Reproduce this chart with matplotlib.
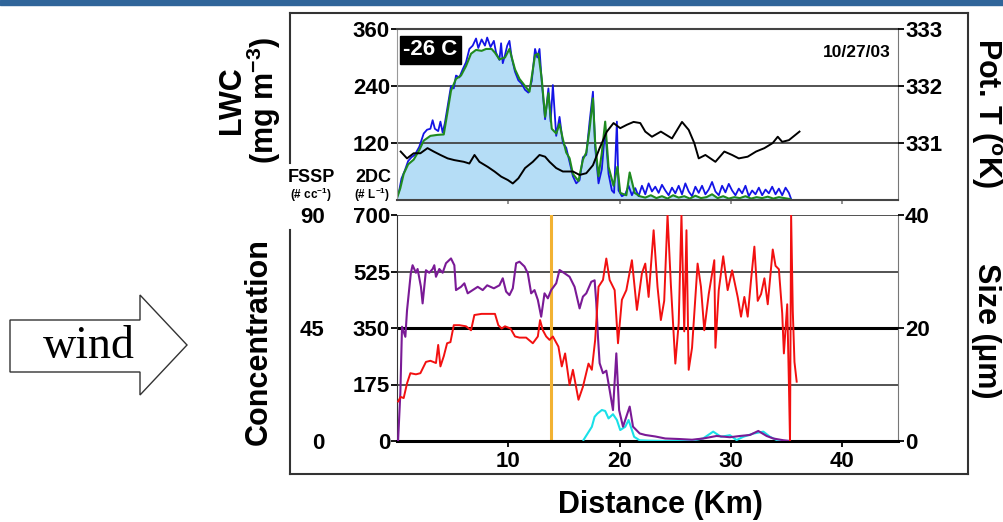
import matplotlib
matplotlib.use('Agg')
import matplotlib.pyplot as plt
from matplotlib.patches import Polygon
from matplotlib.lines import Line2D

# LWC (mg m-3), two probes
blue_km = [0.0, 0.2, 0.4, 0.7, 1.0, 1.3, 1.6, 2.0, 2.4, 2.7, 3.0, 3.2, 3.4, 3.7, 3.9, 4.1, 4.3, 4.5, 4.85, 5.1,
           5.3, 5.6, 5.9, 6.2, 6.5, 6.8, 7.1, 7.3, 7.6, 7.9, 8.1, 8.4, 8.7, 8.9, 9.2, 9.35, 9.5, 9.7, 9.9, 10.1,
           10.3, 10.6, 10.9, 11.2, 11.5, 11.8, 12.1, 12.4, 12.6, 12.8, 13.0, 13.3, 13.6, 13.8, 14.0, 14.3, 14.6,
           14.9, 15.2, 15.5, 15.8, 16.1, 16.4, 16.7, 17.0, 17.3, 17.6, 17.8, 18.1, 18.4, 18.7, 19.0, 19.3, 19.5,
           19.75, 19.9, 20.2, 20.5, 20.8, 21.1, 21.4, 21.7, 22.0, 22.3, 22.6, 22.9, 23.2, 23.5, 23.8, 24.1, 24.4,
           24.7, 25.0, 25.3, 25.6, 25.9, 26.2, 26.5, 26.8, 27.1, 27.4, 27.7, 28.0, 28.3, 28.6, 28.9, 29.2, 29.5,
           29.8, 30.1, 30.4, 30.7, 31.0, 31.3, 31.6, 31.9, 32.2, 32.5, 32.8, 33.1, 33.4, 33.7, 34.0, 34.3, 34.6,
           34.9, 35.2, 35.4]
blue_lwc = [6, 20, 45, 62, 82, 90, 95, 112, 140, 148, 150, 168, 150, 145, 165, 142, 162, 190, 240, 235,
            262, 258, 275, 290, 318, 325, 340, 320, 338, 325, 342, 322, 335, 310, 295, 330, 288, 305, 325, 335,
            300, 270, 252, 245, 232, 226, 250, 318, 300, 318, 250, 170, 235, 165, 242, 135, 175, 120, 110, 80,
            50, 35, 42, 90, 95, 165, 228, 110, 35, 65, 150, 55, 20, 15, 165, 20, 8, 12, 30, 10,
            25, 8, 30, 12, 35, 18, 28, 15, 32, 20, 10, 26, 14, 30, 12, 35, 18, 8, 28, 15,
            30, 12, 22, 38, 18, 10, 30, 16, 34, 20, 10, 24, 14, 30, 8, 20, 12, 26, 10, 22,
            14, 28, 12, 24, 10, 26, 15, 2]

green_km = [0.0, 0.3, 0.6, 1.0, 1.5, 2.0, 2.4, 3.0, 3.6, 4.2, 4.5, 4.85, 5.3, 5.75, 6.2, 6.65, 7.1, 7.6, 8.0,
            8.5, 8.8, 9.2, 9.7, 10.1, 10.6, 11.0, 11.5, 11.9, 12.4, 12.7, 13.0, 13.3, 13.6, 13.9, 14.3, 14.6,
            14.9, 15.2, 15.5, 15.8, 16.3, 16.7, 17.0, 17.3, 17.6, 17.8, 18.1, 18.4, 18.7, 19.0, 19.45, 19.8,
            20.05, 20.6, 20.9, 21.35, 21.8, 22.3, 22.8, 23.3, 23.8, 24.3, 24.8, 25.3, 25.8, 26.3, 26.8, 27.3,
            27.8, 28.3, 28.8, 29.3, 29.8, 30.3, 30.8, 31.3, 31.8, 32.3, 32.8, 33.3, 33.8, 34.3, 34.8, 35.3]
green_lwc = [4, 25, 55, 75, 85, 105, 125, 135, 137, 138, 180, 230, 255, 262, 282, 308, 316, 314, 318,
             318, 310, 296, 300, 318, 275, 255, 240, 228, 305, 308, 255, 175, 225, 150, 140, 160,
             128, 100, 88, 55, 40, 85, 100, 150, 214, 120, 50, 100, 165, 70, 30, 70,
             15, 10, 58, 15, 8, 5, 10, 4, 8, 3, 10, 5, 8, 3, 9, 4,
             6, 12, 4, 8, 3, 6, 4, 8, 3, 6, 4, 7, 3, 6, 4, 2]

# potential temperature (K)
pott_km = [0.33, 0.9, 1.5, 2.1, 2.74, 3.3, 3.9, 4.55, 5.15, 6.0, 6.5, 6.96, 7.4, 8.16, 8.76, 9.36, 9.96, 10.4,
           10.9, 11.5, 12.2, 12.8, 13.3, 13.7, 14.3, 14.9, 15.8, 16.4, 17.0, 17.6, 18.2, 18.85, 19.45, 20.05,
           20.65, 21.25, 21.85, 22.3, 22.9, 23.7, 24.7, 25.6, 26.2, 26.7, 27.1, 27.7, 28.6, 29.4, 30.1, 30.7,
           31.5, 32.25, 33.0, 33.75, 34.2, 34.6, 35.2, 36.15]
pott = [330.85, 330.73, 330.82, 330.82, 330.91, 330.85, 330.79, 330.73, 330.70, 330.67, 330.64, 330.79,
        330.67, 330.58, 330.50, 330.41, 330.35, 330.29, 330.38, 330.56, 330.67, 330.79, 330.76, 330.67,
        330.56, 330.50, 330.50, 330.44, 330.47, 330.61, 330.91, 331.20, 331.35, 331.26, 331.32, 331.37,
        331.35, 331.20, 331.11, 331.20, 331.08, 331.37, 331.23, 331.0, 330.73, 330.79, 330.67, 330.85,
        330.79, 330.73, 330.76, 330.85, 330.91, 331.0, 331.11, 331.02, 331.05, 331.20]

# FSSP concentration (# cc-1)
fssp_km = [0.1, 0.3, 0.45, 0.75, 0.9, 1.24, 1.4, 1.7, 1.85, 2.15, 2.3, 2.6, 2.9, 3.2, 3.35, 3.5, 3.8, 4.1, 4.4,
           4.85, 5.15, 5.3, 5.75, 6.05, 6.35, 6.8, 7.25, 7.7, 8.1, 8.7, 9.2, 9.5, 9.8, 10.1, 10.4, 10.7, 11.0,
           11.45, 11.75, 12.05, 12.35, 12.65, 12.95, 13.25, 13.55, 13.85, 14.3, 14.6, 15.05, 15.5, 15.95, 16.4,
           16.7, 17.0, 17.45, 17.75, 17.9, 18.05, 18.2, 18.5, 18.8, 19.1, 19.4, 19.7, 19.95, 20.3, 20.9, 21.2,
           21.8, 22.3, 23.2, 24.1, 25.3, 26.5, 27.5, 28.7, 29.9, 30.8, 31.7, 32.45, 33.2, 33.8, 34.7, 35.3]
fssp = [0.4, 19, 45.5, 41.5, 52, 66.8, 70, 67, 68.5, 61.4, 54.8, 68, 67, 68.5, 70, 65.4, 68.5, 67, 70.8,
        72.7, 70, 60.1, 61.4, 62.8, 58.8, 60.1, 61.4, 60.1, 62, 60.8, 62, 64.8, 59.5, 58.1, 60.8, 70.8, 71.4,
        69.5, 66.8, 58.8, 60.1, 56.2, 49.5, 58.8, 56.8, 60.1, 62.8, 68.1, 66.8, 65.4, 61.4, 52.8,
        57.5, 58.8, 63.4, 64, 55, 41.5, 31, 27, 28, 20.3, 12.3, 34.9, 12.3, 5.7, 13.7, 5.7,
        3, 2.4, 1.8, 1, 0.8, 0.5, 1, 2, 1.5, 2, 2.4, 4, 2, 1, 0.3, 0]

# 2DC concentration (# L-1)
c2dc_km = [16.75, 17.5, 17.75, 18.0, 18.4, 18.7, 19.0, 19.4, 19.75, 20.05, 20.5, 20.8, 21.3, 21.8, 22.5,
           24.0, 25.5, 26.8, 27.5, 28.4, 29.1, 29.9, 30.5, 31.1, 32.0, 32.9, 33.5, 34.1, 34.7]
c2dc = [3, 44, 75, 85, 96, 93, 70, 83, 65, 34, 44, 65, 13, 2, 1,
        0, 0, 3, 8, 29, 13, 18, 3, 13, 23, 29, 13, 3, 0]

# FSSP mean size (um)
size_km = [0.1, 0.33, 0.6, 0.9, 1.2, 1.7, 2.1, 2.6, 3.0, 3.5, 3.7, 3.9, 4.2, 4.5, 4.8, 5.1, 5.6, 6.2, 6.65,
           6.95, 7.6, 8.2, 8.8, 9.1, 9.4, 9.7, 10.2, 10.6, 11.0, 11.6, 12.2, 12.65, 12.85, 13.1, 13.4, 13.7,
           14.0, 14.5, 14.8, 15.1, 15.5, 15.8, 16.3, 16.7, 17.2, 17.5, 17.8, 18.1, 18.5, 18.8, 19.1, 19.55,
           19.85, 20.2, 20.6, 21.1, 21.55, 22.0, 22.3, 22.6, 23.05, 23.4, 23.7, 24.0, 24.3, 24.6, 25.0, 25.3,
           25.55, 25.8, 26.0, 26.2, 26.5, 27.0, 27.3, 27.6, 28.0, 28.5, 28.6, 28.9, 29.3, 29.7, 30.1, 30.6,
           30.9, 31.2, 31.5, 31.8, 32.1, 32.4, 32.7, 33.0, 33.3, 33.75, 34.0, 34.3, 34.6, 34.75, 35.05, 35.2,
           35.3, 35.4, 35.55, 35.7, 35.9]
size_um = [7.0, 7.8, 7.6, 10.2, 12.0, 11.8, 12.0, 14.0, 14.2, 13.8, 17.0, 13.2, 15.0, 17.3, 17.5, 20.5, 20.5,
           20.3, 19.6, 22.3, 22.5, 22.5, 22.5, 20.5, 19.9, 20.3, 19.9, 18.5, 18.3, 18.3, 17.3, 18.5, 21.4,
           19.6, 18.5, 17.9, 18.5, 16.7, 13.2, 15.5, 9.9, 12.6, 7.3, 9.6, 13.7, 12.6, 17.9, 27.3, 28.5, 32.3,
           28.5, 26.7, 17.3, 25.0, 26.7, 32.0, 23.2, 29.7, 31.4, 25.5, 37.3, 27.3, 21.4, 24.8, 40, 27.6, 13.7,
           20.8, 40, 19.4, 37.3, 12.6, 16.5, 31.4, 27.3, 19.6, 26, 32, 16.5, 26.7, 32.7, 26.7, 30.2, 25.5, 22,
           25.5, 22, 28.5, 34.4, 24.8, 26, 28.8, 24.2, 33.9, 31, 30.4, 22.6, 15.5, 24.2, 10.2, 0, 40, 23, 14,
           10.5]

dist_ticks = [10, 20, 30, 40]
marker_km = 13.8

plt.rcParams['font.family'] = ['Liberation Sans', 'DejaVu Sans']
plt.rcParams['font.weight'] = 'bold'
plt.rcParams['mathtext.fontset'] = 'custom'
plt.rcParams['mathtext.rm'] = 'Liberation Sans:bold'
plt.rcParams['mathtext.bf'] = 'Liberation Sans:bold'
plt.rcParams['mathtext.it'] = 'Liberation Sans:bold'

W, H = 1004, 522
fig = plt.figure(figsize=(W / 100, H / 100), dpi=100)


def fx(px):
    return px / W


def fy(py):
    return 1 - py / H


TICK = 16
LAB = 22


def style(ax):
    ax.tick_params(axis='both', labelsize=TICK, length=4, width=1.3, pad=1, colors='black')
    for lab in ax.get_yticklabels() + ax.get_xticklabels():
        lab.set_fontweight('bold')


# --- top panel: LWC and pot. temperature ---
ax1 = fig.add_axes([fx(397), fy(200), fx(501), 171 / H])
ax1.fill_between(green_km, green_lwc, color='#b5ddf6', lw=0)
ax1.plot(blue_km, blue_lwc, color='#1414e6', lw=1.3)
ax1.plot(green_km, green_lwc, color='#1f8a1f', lw=1.5)
for v in (120, 240):
    ax1.axhline(v, color='#444444', lw=1.3, zorder=1)
ax1.set_xlim(0, 45)
ax1.set_ylim(0, 360)
ax1.set_yticks([120, 240, 360])
ax1.set_xticks(dist_ticks)
ax1.set_xticklabels([])
style(ax1)
ax1.tick_params(axis='x', length=3, color='#888888')
ax1.spines['top'].set_color('#444444')
ax1.spines['top'].set_linewidth(1.5)
ax1.spines['bottom'].set_color('#444444')
ax1.spines['bottom'].set_linewidth(1.5)
ax1.spines['left'].set_color('#999999')
ax1.spines['right'].set_color('#777777')

ax1t = ax1.twinx()
ax1t.plot(pott_km, pott, color='black', lw=1.4)
ax1t.set_ylim(330, 333)
ax1t.set_yticks([331, 332, 333])
style(ax1t)
for s in ax1t.spines.values():
    s.set_visible(False)

ax1.text(0.012, 0.94, '-26 C', transform=ax1.transAxes, color='white', fontsize=16,
         fontweight='bold', ha='left', va='top',
         bbox=dict(boxstyle='square,pad=0.15', fc='black', ec='black'))
ax1.text(0.985, 0.86, '10/27/03', transform=ax1.transAxes, fontsize=12.5,
         fontweight='bold', ha='right', va='center')

# --- bottom panel: concentrations and size ---
ax2 = fig.add_axes([fx(397), fy(441), fx(501), 226 / H])
ax2.set_xlim(0, 45)
ax2.set_ylim(0, 700)
ax2.set_yticks([0, 175, 350, 525, 700])
ax2.set_xticks(dist_ticks)
for v in (175, 525, 700):
    ax2.axhline(v, color='#444444', lw=1.3, zorder=1)
ax2.axhline(350, color='black', lw=2.2, zorder=1)
ax2.axvline(marker_km, color='#f2b233', lw=2.2, zorder=2)
ax2.plot(c2dc_km, c2dc, color='#19e0e8', lw=1.5, zorder=3)
style(ax2)
ax2.tick_params(axis='x', pad=3)
ax2.spines['bottom'].set_linewidth(2.2)
ax2.spines['top'].set_visible(False)
ax2.spines['left'].set_color('#333333')
ax2.spines['right'].set_color('#777777')

# FSSP scale sits further left (offset is in points)
axf = ax2.twinx()
axf.yaxis.tick_left()
axf.spines['left'].set_position(('outward', 51))
for s in axf.spines.values():
    s.set_visible(False)
axf.plot(fssp_km, fssp, color='#7a1a96', lw=1.5)
axf.set_ylim(0, 90)
axf.set_yticks([0, 45, 90])
style(axf)
axf.tick_params(axis='y', length=0)

axs = ax2.twinx()
axs.plot(size_km, size_um, color='#f21010', lw=1.4)
axs.set_ylim(0, 40)
axs.set_yticks([0, 20, 40])
style(axs)
for s in axs.spines.values():
    s.set_visible(False)

# --- axis titles ---
fig.text(fx(250), fy(100), 'LWC\n(mg m$^{-3}$)', rotation=90, ha='center', va='center',
         fontsize=LAB, fontweight='bold', linespacing=0.95)
fig.text(fx(986), fy(113), 'Pot. T ($^{o}$K)', rotation=270, ha='center', va='center',
         fontsize=LAB, fontweight='bold')
fig.text(fx(259), fy(342), 'Concentration', rotation=90, ha='center', va='center',
         fontsize=LAB, fontweight='bold')
fig.text(fx(986), fy(331), 'Size (\u03bcm)', rotation=270, ha='center', va='center',
         fontsize=LAB, fontweight='bold')
fig.text(fx(660), fy(505), 'Distance (Km)', ha='center', va='center',
         fontsize=LAB, fontweight='bold')
fig.text(fx(311), fy(178), 'FSSP', ha='center', va='center', fontsize=13, fontweight='bold')
fig.text(fx(311), fy(195), '(# cc$^{-1}$)', ha='center', va='center', fontsize=8.5, fontweight='bold')
fig.text(fx(373), fy(178), '2DC', ha='center', va='center', fontsize=13, fontweight='bold')
fig.text(fx(372), fy(195), '(# L$^{-1}$)', ha='center', va='center', fontsize=8.5, fontweight='bold')

# --- outer frame (left edge broken by the FSSP label) ---
fc = '#333333'
for (x0, y0, x1, y1) in [(290, 13, 968, 13), (968, 13, 968, 474), (290, 474, 968, 474),
                         (290, 13, 290, 163), (290, 230, 290, 474)]:
    fig.add_artist(Line2D([fx(x0), fx(x1)], [fy(y0), fy(y1)], color=fc, lw=1.5,
                          transform=fig.transFigure))

# slide header bar
fig.add_artist(plt.Rectangle((0, fy(5)), 1, 5 / H, color='#30659a', transform=fig.transFigure))

# wind arrow
arrow = [(10, 320), (140, 320), (140, 295), (187, 345), (140, 395), (140, 372), (10, 372)]
fig.add_artist(Polygon([(fx(a), fy(b)) for a, b in arrow], closed=True, fc='white', ec='#333333',
                       lw=1.0, transform=fig.transFigure))
fig.text(fx(89), fy(347), 'wind', ha='center', va='center', fontsize=33,
         family='Liberation Serif', fontweight='normal')

fig.savefig('out.png', dpi=100)
